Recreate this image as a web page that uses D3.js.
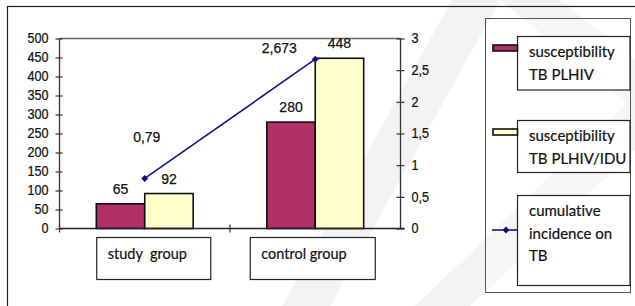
<!DOCTYPE html>
<html>
<head>
<meta charset="utf-8">
<script src="https://cdn.jsdelivr.net/npm/d3@7"></script>
<style>
  body { margin: 0; background: #fff; }
  svg { display: block; }
  text { font-variant-ligatures: none; }
</style>
</head>
<body>
<div id="chart"></div>
<script>
// data
var categories = ["study  group", "control group"];
var seriesNames = ["susceptibility TB PLHIV", "susceptibility TB PLHIV/IDU"];
var plhiv = [65, 280];
var plhivIdu = [92, 448];
var incidence = [0.79, 2.673];
var incidenceLabels = ["0,79", "2,673"];
var leftTicks = [0, 50, 100, 150, 200, 250, 300, 350, 400, 450, 500];
var rightTicks = [0, 0.5, 1, 1.5, 2, 2.5, 3];

var width = 635, height = 306;
var pLeft = 59.5, pRight = 400.5, pTop = 38.5, pBottom = 228.5;
var numFont = "'Liberation Sans', Arial, sans-serif";
var txtFont = "Lato, 'Open Sans', sans-serif";

var svg = d3.select("#chart").append("svg")
    .attr("width", width).attr("height", height);

svg.append("rect").attr("width", width).attr("height", height).attr("fill", "#fff");

// faint watermark bands
var wm = [
  [[452, 0], [500, 0], [330, 306], [282, 306]],
  [[635, 95], [635, 150], [470, 306], [415, 306]],
  [[500, 0], [560, 0], [635, 60], [635, 110]]
];
svg.append("g").selectAll("polygon").data(wm).join("polygon")
    .attr("points", d => d.join(" "))
    .attr("fill", "#f3f3f3");

// outer frame
svg.append("rect").attr("x", 7.5).attr("y", 6.5).attr("width", 700).attr("height", 400)
    .attr("fill", "none").attr("stroke", "#222").attr("stroke-width", 1.2);

var x0 = d3.scaleBand().domain(categories).range([pLeft, pRight]).padding(0);
var x1 = d3.scaleBand().domain(seriesNames).range([0, x0.bandwidth()])
    .paddingInner(0).paddingOuter(0.76);
var yL = d3.scaleLinear().domain([0, 500]).range([pBottom, pTop]);
var yR = d3.scaleLinear().domain([0, 3]).range([pBottom, pTop]);
var colors = ["#b02f64", "#ffffcc"];
var fmt = v => String(v).replace(".", ",");

// top border of plot
svg.append("line").attr("x1", pLeft).attr("x2", pRight).attr("y1", pTop).attr("y2", pTop)
    .attr("stroke", "#666").attr("stroke-width", 1.3);

// left axis
var gl = svg.append("g").attr("transform", `translate(${pLeft},0)`)
    .call(d3.axisLeft(yL).tickValues(leftTicks).tickSize(4).tickPadding(7));
gl.selectAll(".tick line").attr("x2", 3).attr("x1", -4);
// right axis
var gr = svg.append("g").attr("transform", `translate(${pRight},0)`)
    .call(d3.axisRight(yR).tickValues(rightTicks).tickSize(4).tickFormat(fmt).tickPadding(7));
gr.selectAll(".tick line").attr("x2", 4).attr("x1", -4);
[gl, gr].forEach(g => {
  g.select(".domain").remove();
  g.selectAll(".tick line").attr("stroke", "#333").attr("stroke-width", 1.2);
  g.selectAll("text").attr("font-family", numFont).attr("font-size", 14)
      .attr("fill", "#111").attr("stroke", "#111").attr("stroke-width", 0.25)
      .attr("transform", "scale(0.9,1)");
});
gl.selectAll("text").attr("x", -11 / 0.9);
gr.selectAll("text").attr("x", 11 / 0.9);
svg.append("line").attr("x1", pLeft).attr("x2", pLeft).attr("y1", pTop).attr("y2", pBottom)
    .attr("stroke", "#333").attr("stroke-width", 1.3);
svg.append("line").attr("x1", pRight).attr("x2", pRight).attr("y1", pTop).attr("y2", pBottom)
    .attr("stroke", "#333").attr("stroke-width", 1.3);

// bars
var groups = svg.append("g").selectAll("g").data(categories).join("g")
    .attr("transform", d => `translate(${x0(d)},0)`);
var barData = (c, i) => [plhiv[i], plhivIdu[i]].map((v, j) => ({ s: seriesNames[j], v: v, j: j }));
groups.selectAll("rect").data(barData).join("rect")
    .attr("x", d => x1(d.s)).attr("width", x1.bandwidth())
    .attr("y", d => yL(d.v)).attr("height", d => pBottom - yL(d.v))
    .attr("fill", d => colors[d.j]).attr("stroke", "#111").attr("stroke-width", 1.6);
groups.selectAll("text").data(barData).join("text")
    .attr("x", d => x1(d.s) + x1.bandwidth() / 2).attr("y", d => yL(d.v) - 10)
    .attr("text-anchor", "middle").attr("font-family", numFont).attr("font-size", 14)
    .attr("fill", "#111").attr("stroke", "#111").attr("stroke-width", 0.25).text(d => d.v);

// x axis
svg.append("line").attr("x1", pLeft).attr("x2", pRight + 4).attr("y1", pBottom).attr("y2", pBottom)
    .attr("stroke", "#222").attr("stroke-width", 1.5);
[pLeft, x0(categories[1])].forEach(xx => {
  svg.append("line").attr("x1", xx).attr("x2", xx).attr("y1", pBottom - 4).attr("y2", pBottom + 4)
      .attr("stroke", "#333").attr("stroke-width", 1.2);
});

// category label boxes
var boxOffset = [-48, -65], boxWidth = [114, 125];
var cg = svg.append("g").selectAll("g").data(categories).join("g")
    .attr("transform", (d, i) => `translate(${x0(d) + x0.bandwidth() / 2 + boxOffset[i]},237.5)`);
cg.append("rect").attr("width", (d, i) => boxWidth[i]).attr("height", 42)
    .attr("fill", "#fff").attr("stroke", "#222").attr("stroke-width", 1.2);
cg.append("text").attr("x", 11).attr("y", 21).attr("font-family", txtFont)
    .attr("font-size", 14.5).attr("fill", "#111").attr("stroke", "#111").attr("stroke-width", 0.2)
    .style("white-space", "pre").text(d => d);

// incidence line
var cx = d => x0(d) + x0.bandwidth() / 2;
var pts = categories.map((c, i) => [cx(c), yR(incidence[i])]);
svg.append("path").attr("d", d3.line()(pts)).attr("fill", "none")
    .attr("stroke", "#14148a").attr("stroke-width", 1.6);
svg.append("g").selectAll("path").data(pts).join("path")
    .attr("transform", d => `translate(${d[0]},${d[1]})`)
    .attr("d", d3.symbol(d3.symbolDiamond2, 30)).attr("fill", "#0d0d80");
var lblOffset = [[2, -36], [-36, -6.5]];
svg.append("g").selectAll("text").data(pts).join("text")
    .attr("x", (d, i) => d[0] + lblOffset[i][0]).attr("y", (d, i) => d[1] + lblOffset[i][1])
    .attr("text-anchor", "middle").attr("font-family", numFont).attr("font-size", 14)
    .attr("fill", "#111").attr("stroke", "#111").attr("stroke-width", 0.25)
    .text((d, i) => incidenceLabels[i]);

// legend
var lg = svg.append("g");
lg.append("rect").attr("x", 485.5).attr("y", 18.5).attr("width", 145).attr("height", 274)
    .attr("fill", "#fff").attr("fill-opacity", 0.3).attr("stroke", "#555").attr("stroke-width", 1);
var legendItems = [
  { lines: ["susceptibility", "TB PLHIV"], y: 36.5, h: 53.5, kind: 0 },
  { lines: ["susceptibility", "TB PLHIV/IDU"], y: 120.5, h: 52, kind: 1 },
  { lines: ["cumulative", "incidence on", "TB"], y: 195.5, h: 90, kind: 2 }
];
legendItems.forEach(it => {
  lg.append("rect").attr("x", 517.5).attr("y", it.y).attr("width", 112.5).attr("height", it.h)
      .attr("fill", "#fff").attr("stroke", "#222").attr("stroke-width", 1.2);
  it.lines.forEach((t, k) => {
    lg.append("text").attr("x", 529).attr("y", it.y + 20.5 + k * 22.5)
        .attr("font-family", txtFont).attr("font-size", 15).attr("fill", "#111")
        .attr("stroke", "#111").attr("stroke-width", 0.2).text(t);
  });
  if (it.kind < 2) {
    lg.append("rect").attr("x", 493).attr("y", it.y + 8.5).attr("width", 24.5).attr("height", 6)
        .attr("fill", colors[it.kind]).attr("stroke", "#111").attr("stroke-width", 1.6);
  } else {
    lg.append("line").attr("x1", 492).attr("x2", 517.5).attr("y1", 230).attr("y2", 230)
        .attr("stroke", "#14148a").attr("stroke-width", 1.6);
    lg.append("path").attr("transform", "translate(506,230)")
        .attr("d", d3.symbol(d3.symbolDiamond2, 30)).attr("fill", "#0d0d80");
  }
});
</script>
</body>
</html>
